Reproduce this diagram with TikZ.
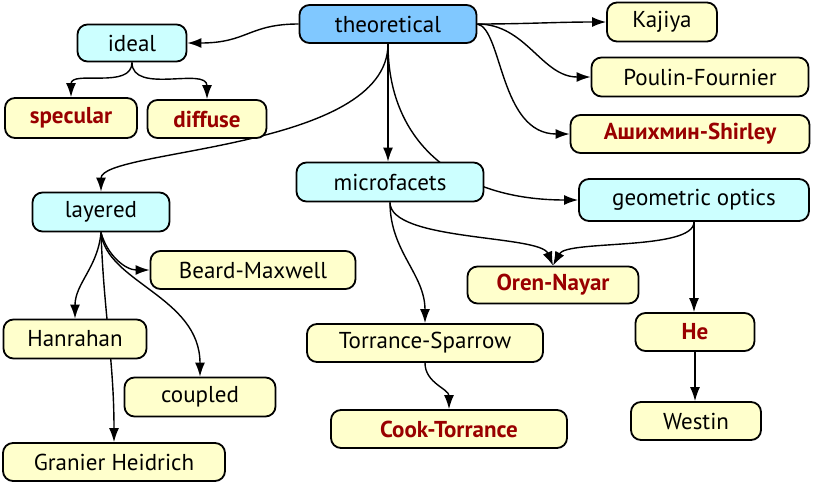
\documentclass[tikz,border=0pt]{standalone}
\usepackage{fontspec}
\setmainfont{PT Sans}
\usetikzlibrary{arrows.meta}
\definecolor{theofill}{HTML}{80C8FF}
\definecolor{cyanfill}{HTML}{CCFFFF}
\definecolor{yelfill}{HTML}{FFFFCC}
\definecolor{hilite}{HTML}{990000}
\pgfdeclarelayer{bg}
\pgfsetlayers{bg,main}
\tikzset{
  box/.style={draw, line width=1.8pt, rounded corners=10pt, inner sep=0pt,
    font=\fontsize{23}{27}\selectfont},
  topbox/.style={box, fill=theofill},
  midbox/.style={box, fill=cyanfill},
  leafbox/.style={box, fill=yelfill},
  hot/.style={leafbox, text=hilite, font=\fontsize{23}{27}\selectfont\bfseries},
  edge/.style={line width=1.4pt, -{Latex[length=14pt,width=10pt]}},
  sz/.style 2 args={minimum width=#1pt, minimum height=#2pt}
}
\begin{document}
\begin{tikzpicture}[x=1pt,y=1pt]
\useasboundingbox (0,0) rectangle (822,-485);
\node[topbox, sz={177}{38}] (theo) at (388,-24) {theoretical};
\node[midbox, sz={109}{37}] (ideal) at (132,-43) {ideal};
\node[hot, sz={132}{40}] (spec) at (71,-118) {specular};
\node[hot, sz={119}{38}] (diff) at (207,-119) {diffuse};
\node[leafbox, sz={110}{39}] (kaj) at (662,-22) {Kajiya};
\node[leafbox, sz={217}{39}] (poul) at (700,-77) {Poulin-Fournier};
\node[hot, sz={239}{38}] (ash) at (690,-134) {Ашихмин-Shirley};
\node[midbox, sz={137}{39}] (lay) at (101,-212) {layered};
\node[leafbox, sz={205}{38}] (beard) at (253,-270) {Beard-Maxwell};
\node[leafbox, sz={143}{39}] (han) at (75,-339) {Hanrahan};
\node[leafbox, sz={151}{39}] (coup) at (200,-397) {coupled};
\node[leafbox, sz={222}{38}] (gran) at (114,-462) {Granier Heidrich};
\node[midbox, sz={187}{39}] (micro) at (390,-182) {microfacets};
\node[midbox, sz={230}{42}] (geo) at (694,-200) {geometric optics};
\node[hot, sz={171}{37}] (oren) at (553,-285) {Oren-Nayar};
\node[leafbox, sz={236}{38}] (tor) at (425,-343) {Torrance-Sparrow};
\node[hot, sz={119}{38}] (he) at (695,-332) {He};
\node[hot, sz={236}{38}] (cook) at (449,-429) {Cook-Torrance};
\node[leafbox, sz={130}{38}] (west) at (696,-421) {Westin};
\begin{pgfonlayer}{bg}
\draw[edge] (theo.west) .. controls +(-50,0) and +(60,0) .. (ideal.east);
\draw[edge] (ideal.south) to[out=-90,in=90] (spec.north);
\draw[edge] (ideal.south) to[out=-90,in=90] (diff.north);
\draw[edge] (theo.east) to[out=0,in=180] (kaj.west);
\draw[edge] (theo.east) to[out=0,in=180] (poul.west);
\draw[edge] (theo.east) .. controls +(25,-5) and +(-70,0) .. (ash.west);
\draw[edge] (theo.south) .. controls +(0,-107) and +(0,43) .. (lay.north);
\draw[edge] (theo.south) -- (theo.south |- micro.north);
\draw[edge] (theo.south) .. controls +(0,-100) and +(-120,0) .. (geo.west);
\draw[edge] (micro.south) .. controls +(0,-39) and +(-13,31) .. (oren.north);
\draw[edge] (micro.south) to[out=-90,in=90] (tor.north);
\draw[edge] (geo.south) .. controls +(0,-29) and +(14,26) .. (oren.north);
\draw[edge] (geo.south) -- (geo.south |- he.north);
\draw[edge] (he.south) -- (he.south |- west.north);
\draw[edge] (tor.south) to[out=-90,in=90] (cook.north);
\draw[edge] (lay.south) to[out=-75,in=180] (beard.west);
\draw[edge] (lay.south) to[out=-95,in=90] (han.north);
\draw[edge] (lay.south) to[out=-88,in=90] (gran.north);
\draw[edge] (lay.south) .. controls +(5,-50) and +(0,80) .. (coup.north);
\end{pgfonlayer}
\end{tikzpicture}
\end{document}
